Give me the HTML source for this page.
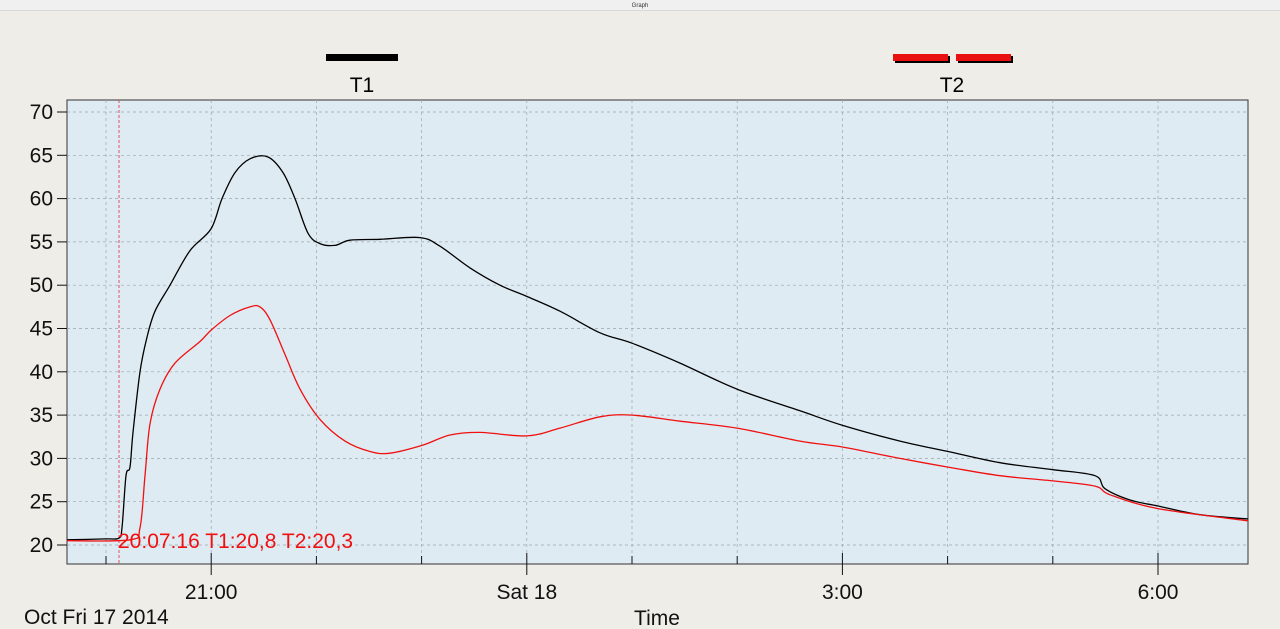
<!DOCTYPE html>
<html><head><meta charset="utf-8"><style>
html,body{margin:0;padding:0;width:1280px;height:629px;overflow:hidden;background:#efede8;font-family:"Liberation Sans",sans-serif}
</style></head><body>
<svg id="s" width="1280" height="629" xmlns="http://www.w3.org/2000/svg" font-family="Liberation Sans, sans-serif">
<rect x="0" y="0" width="1280" height="10" fill="#f0f0f0"/>
<line x1="0" y1="10.5" x2="1280" y2="10.5" stroke="#d8d8d8"/>
<text x="640" y="7" font-size="6" text-anchor="middle" fill="#333">Graph</text>
<rect x="67" y="100" width="1181" height="464" fill="#dfebf3" stroke="#333" stroke-width="1"/>
<g id="grid" stroke="#9aa6b0" stroke-width="0.7" stroke-dasharray="3,3"></g>
<line x1="119" y1="100" x2="119" y2="564" stroke="#e05060" stroke-dasharray="3,2"/>
<g id="axes" font-size="21" fill="#111"></g>
<rect x="326" y="54" width="72" height="7" fill="#000"/>
<rect x="895" y="56" width="55" height="7" fill="#000"/><rect x="893" y="54" width="55" height="7" fill="#e81010"/>
<rect x="958" y="56" width="55" height="7" fill="#000"/><rect x="956" y="54" width="55" height="7" fill="#e81010"/>
<text x="362" y="92" font-size="21" text-anchor="middle">T1</text>
<text x="952" y="92" font-size="21" text-anchor="middle">T2</text>
<path id="t1" fill="none" stroke="#000" stroke-width="1.3"/>
<path id="t2" fill="none" stroke="#f01010" stroke-width="1.3"/>
<text x="118" y="548" font-size="21" fill="#f01010">20:07:16 T1:20,8 T2:20,3</text>
<text x="24" y="624" font-size="21" fill="#111">Oct Fri 17 2014</text>
<text x="657" y="625" font-size="21" text-anchor="middle" fill="#111">Time</text>
</svg>
<script>
var Y=function(v){return 545-(v-20)*8.66;};
var ns="http://www.w3.org/2000/svg",g=document.getElementById('grid'),ax=document.getElementById('axes');
function el(p,t,a,tx){var e=document.createElementNS(ns,t);for(var k in a)e.setAttribute(k,a[k]);if(tx)e.textContent=tx;p.appendChild(e);}
for(var v=20;v<=70;v+=5){var y=Y(v);el(g,'line',{x1:67,x2:1248,y1:y,y2:y});el(ax,'line',{x1:57,x2:67,y1:y,y2:y,stroke:'#111'});el(ax,'text',{x:53,y:y+7,'text-anchor':'end'},v);}
var L=['21:00','Sat 18','3:00','6:00'];
for(var i=0;i<11;i++){var x=106+i*105.2;el(g,'line',{x1:x,x2:x,y1:100,y2:564});var maj=(i%3==1);el(ax,'line',{x1:x,x2:x,y1:maj?553:556,y2:maj?575:564,stroke:'#111'});if(maj)el(ax,'text',{x:x,y:599,'text-anchor':'middle'},L[(i-1)/3]);}
var a=[[67,20.6],[106,20.7],[119,20.8],[122,22],[126,28],[130,29],[133,33],[140,40],[147,44],[155,47],[170,50],[190,54],[211,56.5],[222,60],[235,63],[250,64.6],[268,64.8],[283,63],[295,60],[308,56],[320,54.8],[335,54.6],[350,55.2],[380,55.3],[420,55.5],[440,54.5],[470,52],[500,50],[527,48.7],[560,47],[600,44.5],[632,43.3],[680,41],[737,38],[800,35.5],[843,33.8],[900,32],[948,30.8],[1000,29.5],[1053,28.7],[1095,28],[1105,26.5],[1130,25.2],[1158,24.5],[1200,23.5],[1248,23]];
var b=[[67,20.5],[130,20.6],[140,22],[145,28],[150,34],[160,38],[175,41],[200,43.5],[211,44.8],[230,46.5],[250,47.5],[260,47.5],[270,46],[285,42],[300,38],[320,34.5],[345,32],[370,30.8],[390,30.6],[422,31.5],[450,32.7],[480,33],[527,32.6],[560,33.5],[600,34.8],[632,35],[680,34.3],[737,33.5],[800,32],[843,31.3],[900,30],[948,29],[1000,28],[1053,27.4],[1095,26.8],[1110,25.8],[1158,24.2],[1248,22.8]];
function path(d){var p=d.map(function(q){return [q[0],Y(q[1])];});var s='M'+p[0][0]+','+p[0][1].toFixed(1);
for(var i=0;i<p.length-1;i++){var p0=p[i-1]||p[i],p1=p[i],p2=p[i+1],p3=p[i+2]||p2;
var c1x=p1[0]+(p2[0]-p0[0])/6,c1y=p1[1]+(p2[1]-p0[1])/6,c2x=p2[0]-(p3[0]-p1[0])/6,c2y=p2[1]-(p3[1]-p1[1])/6;
s+=' C'+c1x.toFixed(1)+','+c1y.toFixed(1)+' '+c2x.toFixed(1)+','+c2y.toFixed(1)+' '+p2[0]+','+p2[1].toFixed(1);}return s;}
document.getElementById('t1').setAttribute('d',path(a));
document.getElementById('t2').setAttribute('d',path(b));
</script>
</body></html>
